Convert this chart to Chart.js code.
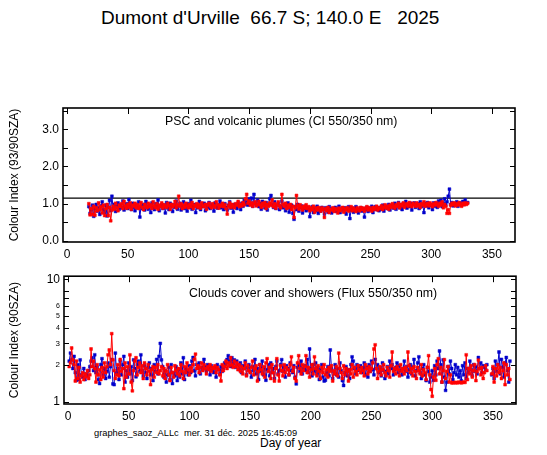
<!DOCTYPE html>
<html lang="fr">
<head>
<meta charset="UTF-8">
<title>Dumont d'Urville 2025</title>
<script src="https://cdn.jsdelivr.net/npm/chart.js"></script>
<style>
  body { margin: 0; background: #fff; font-family: "Liberation Sans", Arial, sans-serif; }
  .page { position: relative; width: 547px; height: 455px; overflow: hidden; }
  .page canvas { position: absolute; left: 0; }
  .txt { position: absolute; white-space: pre; color: #000; line-height: 1.2; }
</style>
</head>
<body>
<div class="page">
  <div class="txt" style="left:101px; top:7px; font-size:19px;">Dumont d'Urville  66.7 S; 140.0 E   2025</div>
  <canvas id="ciChart" width="547" height="170" style="top:95px"></canvas>
  <canvas id="fluxChart" width="547" height="160" style="top:265px"></canvas>
  <div class="txt" style="left:165px; top:114px; font-size:12.3px;">PSC and volcanic plumes (CI 550/350 nm)</div>
  <div class="txt" style="left:189px; top:286px; font-size:12.3px;">Clouds cover and showers (Flux 550/350 nm)</div>
  <div class="txt" style="left:94px; top:428px; font-size:9.3px;">graphes_saoz_ALLc  mer. 31 déc. 2025 16:45:09</div>
  <div class="txt" style="left:260px; top:436px; font-size:12px;">Day of year</div>
</div>
<script>
// ---- data (one value per day, starting at the given day) ----
const dayMin = -3.3;
const dayMax = 369;
const dayTicks = [0, 50, 100, 150, 200, 250, 300, 350];

// top panel : colour index 93/90 SZA
const ciStartDay = 18;
const ciBlue = [
  0.92, 0.74, 0.83, 0.96, 0.66, 0.87, 0.98, 0.80, 0.89, 0.71,
  0.94, 1.05, 0.84, 0.76, 0.96, 0.67, 0.90, 1.09, 0.81, 1.20,
  0.87, 0.98, 0.79, 0.93, 1.02, 0.85, 0.96, 0.89, 1.07, 0.83,
  0.92, 1.00, 0.87, 1.11, 0.94, 0.84, 1.01, 0.90, 0.81, 0.97,
  0.89, 1.05, 0.64, 0.93, 0.87, 0.98, 0.83, 1.06, 0.92, 0.85,
  0.96, 0.76, 1.02, 0.90, 0.84, 1.00, 0.93, 1.10, 0.81, 0.92,
  0.98, 0.87, 0.96, 0.75, 1.03, 0.89, 0.84, 1.01, 0.93, 0.79,
  0.97, 0.90, 1.07, 0.85, 0.94, 1.01, 0.83, 0.92, 1.05, 0.87,
  0.96, 0.80, 1.00, 0.90, 1.09, 0.85, 0.93, 0.98, 0.76, 0.94,
  0.89, 1.06, 0.84, 0.96, 0.92, 1.01, 0.81, 0.97, 0.90, 1.03,
  0.87, 0.94, 0.98, 0.80, 1.02, 0.92, 0.88, 0.97, 1.07, 0.89,
  0.93, 0.84, 1.00, 0.90, 0.83, 0.96, 1.05, 0.88, 0.94, 0.77,
  0.98, 0.92, 0.87, 1.02, 0.94, 0.84, 1.01, 0.93, 1.09, 0.98,
  1.05, 0.96, 1.13, 1.00, 1.15, 0.93, 1.25, 1.02, 0.97, 1.10,
  0.92, 1.01, 0.85, 1.06, 0.96, 0.89, 1.03, 0.83, 0.98, 1.13,
  1.22, 0.97, 0.90, 1.05, 0.87, 0.96, 1.01, 0.84, 0.93, 1.07,
  0.89, 0.98, 0.81, 0.93, 1.02, 0.77, 0.88, 0.96, 0.74, 0.58,
  0.92, 0.84, 0.98, 0.80, 0.89, 0.94, 0.75, 0.87, 0.93, 0.81,
  0.85, 0.90, 0.65, 0.84, 0.92, 0.76, 0.88, 0.81, 0.93, 0.74,
  0.87, 0.80, 0.90, 0.84, 0.72, 0.89, 0.83, 0.77, 0.92, 0.85,
  0.75, 0.87, 0.81, 0.90, 0.79, 0.85, 0.93, 0.76, 0.84, 0.88,
  0.80, 0.89, 0.72, 0.85, 0.92, 0.60, 0.83, 0.88, 0.77, 0.87,
  0.92, 0.81, 0.75, 0.85, 0.89, 0.80, 0.87, 0.64, 0.84, 0.90,
  0.79, 0.88, 0.83, 0.93, 0.76, 0.87, 0.92, 0.84, 0.89, 0.81,
  0.90, 0.85, 0.96, 0.80, 0.89, 0.93, 0.87, 0.98, 0.83, 0.92,
  0.97, 0.88, 1.01, 0.85, 0.94, 1.03, 0.89, 0.96, 0.84, 1.00,
  0.93, 1.06, 0.88, 0.97, 0.92, 1.01, 0.83, 0.98, 1.02, 0.90,
  0.96, 1.00, 0.87, 1.05, 0.93, 0.97, 0.76, 1.01, 0.94, 1.03,
  0.89, 0.98, 0.96, 0.84, 1.02, 0.93, 1.00, 0.90, 1.07, 0.97,
  1.09, 0.92, 1.01, 1.13, 0.96, 1.05, 1.20, 1.39, 0.98, 1.03,
  0.94, 1.01, 0.97, 1.05, 0.93, 1.00, 1.02, 0.96, 1.06, 0.98,
  1.10, 1.01, 1.03
];
const ciRed = [
  1.00, 0.70, 0.87, 0.71, 0.93, 0.69, 0.89, 0.81, 1.02, 0.84,
  0.92, 0.75, 0.96, 0.68, 0.87, 0.98, 0.68, 0.90, 0.54, 0.83,
  0.93, 0.85, 1.01, 0.89, 0.81, 0.96, 0.92, 1.00, 0.87, 1.06,
  0.94, 0.88, 0.98, 0.90, 1.02, 0.85, 0.96, 0.93, 1.01, 0.89,
  0.97, 0.87, 0.94, 1.03, 0.90, 0.84, 0.98, 0.93, 0.89, 1.01,
  0.92, 0.97, 0.87, 1.05, 0.94, 0.89, 1.00, 0.85, 0.96, 0.92,
  1.02, 0.88, 0.97, 0.93, 0.90, 1.01, 0.94, 0.85, 0.98, 0.92,
  0.96, 1.06, 0.89, 0.97, 1.20, 0.93, 1.00, 0.87, 0.96, 0.90,
  1.01, 0.94, 0.89, 0.98, 0.92, 1.03, 0.87, 0.96, 0.93, 1.00,
  0.90, 0.97, 0.88, 1.02, 0.94, 0.92, 0.98, 0.85, 0.96, 1.01,
  0.93, 0.89, 1.00, 0.94, 0.90, 1.05, 0.97, 0.88, 0.96, 0.93,
  1.01, 0.92, 0.97, 0.87, 0.72, 0.94, 1.02, 0.90, 0.98, 0.93,
  0.89, 1.00, 0.96, 1.06, 0.92, 0.98, 0.94, 1.03, 0.97, 1.13,
  1.25, 1.01, 1.07, 0.96, 1.02, 0.93, 1.00, 1.05, 0.94, 0.98,
  1.06, 0.97, 0.90, 1.01, 0.94, 1.03, 0.87, 0.98, 0.93, 1.02,
  0.96, 1.10, 0.92, 1.00, 0.88, 0.97, 1.05, 0.94, 0.89, 1.25,
  0.98, 0.93, 1.01, 0.87, 0.96, 0.90, 0.98, 0.84, 0.93, 0.63,
  0.89, 1.22, 0.94, 0.85, 0.97, 0.90, 0.83, 0.93, 0.88, 0.97,
  0.87, 0.92, 0.81, 0.89, 0.84, 0.93, 0.77, 0.88, 0.83, 0.90,
  0.85, 0.80, 0.89, 0.84, 0.63, 0.87, 0.81, 0.90, 0.76, 0.85,
  0.83, 0.89, 0.79, 0.87, 0.84, 0.75, 0.88, 0.81, 0.85, 0.90,
  0.77, 0.87, 0.83, 0.89, 0.80, 0.85, 0.92, 0.81, 0.88, 0.84,
  0.79, 0.89, 0.85, 0.81, 0.90, 0.84, 0.88, 0.80, 0.87, 0.92,
  0.83, 0.89, 0.85, 0.80, 0.90, 0.84, 0.88, 0.93, 0.83, 0.89,
  0.87, 0.94, 0.84, 0.90, 0.97, 0.88, 0.93, 0.85, 0.96, 0.90,
  1.00, 0.92, 0.88, 0.97, 0.93, 1.01, 0.89, 0.98, 0.94, 1.02,
  0.90, 0.97, 1.00, 0.93, 1.03, 0.96, 0.92, 1.01, 0.97, 0.93,
  1.02, 0.94, 0.98, 0.90, 1.00, 0.96, 1.05, 0.93, 0.98, 1.01,
  0.94, 1.02, 0.97, 0.92, 1.00, 0.96, 1.03, 0.98, 0.93, 1.01,
  0.96, 1.05, 0.89, 0.98, 0.93, 0.74, 0.84, 0.74, 0.96, 1.01,
  0.97, 1.02, 0.94, 1.00, 0.96, 1.03, 0.98, 0.93, 1.01, 0.97,
  1.02, 0.98, 1.01
];
const ciThreshold = 1.15;
const ciLabelTicks = [0, 1, 2, 3];
const ciMarkTicks = [0, 0.5, 1, 1.5, 2, 2.5, 3, 3.5];

// bottom panel : flux ratio 90 SZA (log scale)
const fluxStartDay = 1;
const fluxBlue = [
  2.15, 2.50, 2.20, 1.87, 2.35, 1.73, 1.50, 2.01, 1.52, 2.20,
  1.66, 1.59, 1.87, 1.52, 1.69, 1.63, 1.80, 1.94, 2.15, 2.29,
  1.80, 2.42, 1.73, 1.91, 1.52, 1.41, 2.01, 2.25, 1.66, 1.87,
  1.55, 1.77, 2.08, 1.59, 1.94, 2.22, 1.40, 1.38, 2.50, 1.73,
  1.87, 1.52, 2.15, 1.66, 2.01, 2.35, 1.45, 1.80, 1.59, 2.08,
  1.69, 1.94, 1.49, 2.20, 1.87, 1.60, 2.01, 2.15, 1.77, 2.42,
  1.80, 1.63, 1.97, 1.73, 1.55, 1.91, 2.08, 1.66, 1.87, 1.49,
  2.01, 1.77, 2.22, 1.69, 2.35, 3.00, 2.20, 1.94, 1.59, 1.80,
  1.45, 1.66, 1.91, 1.52, 2.01, 1.41, 1.73, 1.63, 1.94, 1.49,
  1.83, 1.59, 2.08, 1.69, 2.29, 1.52, 1.87, 1.77, 1.66, 1.97,
  1.73, 2.15, 2.30, 1.80, 1.63, 2.01, 1.87, 2.08, 1.69, 1.91,
  1.83, 2.22, 1.94, 1.77, 2.01, 1.87, 1.66, 1.97, 1.80, 1.73,
  1.91, 1.59, 2.01, 1.83, 1.69, 1.94, 1.77, 1.87, 2.08, 2.01,
  2.22, 2.38, 2.15, 1.94, 2.29, 2.05, 2.20, 1.91, 2.15, 2.01,
  1.83, 2.08, 1.73, 1.97, 1.87, 2.15, 1.66, 1.91, 2.01, 1.77,
  1.59, 1.94, 1.80, 2.22, 1.69, 1.87, 1.52, 2.01, 1.77, 2.15,
  1.66, 1.91, 1.50, 1.83, 2.01, 1.63, 2.08, 1.73, 1.87, 1.55,
  1.94, 2.15, 1.69, 1.80, 2.01, 2.21, 1.77, 1.91, 1.59, 1.97,
  1.87, 1.66, 2.08, 1.80, 1.73, 1.97, 1.59, 1.40, 1.91, 2.01,
  1.77, 2.15, 1.69, 1.87, 1.97, 1.80, 2.22, 1.73, 2.70, 1.87,
  1.63, 2.01, 1.77, 2.08, 1.69, 1.91, 1.52, 1.83, 2.01, 1.59,
  1.48, 1.50, 1.73, 1.94, 1.63, 2.65, 1.87, 1.55, 1.77, 2.01,
  1.66, 1.87, 1.59, 2.08, 1.80, 1.49, 1.36, 1.73, 1.94, 1.63,
  1.83, 1.55, 2.01, 2.33, 2.15, 1.87, 1.69, 2.01, 1.80, 1.91,
  1.97, 1.73, 1.87, 2.08, 1.66, 1.91, 1.59, 2.01, 1.77, 2.15,
  1.83, 1.66, 2.22, 1.87, 2.01, 1.73, 1.91, 1.63, 2.08, 1.80,
  1.55, 1.77, 1.94, 1.69, 2.15, 1.87, 2.01, 1.66, 1.83, 1.91,
  2.08, 1.73, 1.97, 1.80, 1.66, 1.87, 2.15, 1.77, 1.94, 1.59,
  1.83, 2.01, 1.69, 1.91, 2.22, 1.63, 1.80, 2.08, 2.33, 1.73,
  1.55, 1.87, 2.01, 1.66, 1.49, 1.91, 1.77, 1.45, 1.59, 1.80,
  1.50, 1.97, 1.66, 2.15, 1.87, 2.60, 2.01, 1.45, 2.20, 1.59,
  1.24, 1.45, 1.94, 1.69, 2.15, 1.87, 1.52, 1.73, 2.01, 1.66,
  1.91, 1.59, 1.80, 1.49, 1.97, 1.66, 2.08, 1.55, 1.87, 1.73,
  2.15, 1.83, 1.63, 2.01, 1.77, 1.94, 1.69, 2.30, 1.87, 2.08,
  1.73, 1.97, 1.91, 1.83, 2.01, null, null, null, 1.66, 1.87,
  1.55, 2.15, 1.77, 2.01, 2.55, 1.69, 2.22, 1.91, 1.59, 2.08,
  2.30, 1.80, 1.45, 2.15
];
const fluxRed = [
  1.94, 2.08, 2.75, 2.20, 2.01, 1.48, 2.15, 1.55, 1.91, 1.45,
  1.63, 1.73, 1.52, 1.69, 1.60, 1.80, 1.55, 1.66, 2.70, 1.94,
  2.15, 1.87, 1.45, 2.01, 1.66, 1.83, 1.52, 1.91, 1.59, 2.08,
  1.73, 1.94, 2.42, 2.65, 2.01, 3.60, 2.20, 1.80, 1.55, 1.66,
  2.01, 1.63, 2.22, 1.77, 1.87, 1.28, 2.08, 1.59, 1.94, 1.69,
  2.42, 1.45, 1.23, 1.80, 2.15, 2.29, 1.66, 1.91, 2.08, 1.73,
  1.97, 1.55, 2.08, 1.87, 1.66, 2.01, 1.77, 1.38, 1.83, 1.94,
  1.59, 1.91, 1.73, 2.01, 1.69, 1.80, 1.94, 1.63, 1.87, 1.55,
  1.77, 2.01, 1.66, 1.49, 1.91, 1.73, 1.59, 1.97, 1.80, 1.69,
  1.87, 1.63, 2.01, 1.77, 1.55, 1.94, 1.73, 2.08, 1.83, 1.66,
  1.91, 1.77, 2.01, 2.22, 2.45, 1.87, 1.97, 1.73, 1.91, 2.08,
  1.80, 2.01, 1.87, 1.69, 1.94, 1.83, 2.01, 1.77, 1.91, 1.87,
  1.97, 1.73, 1.91, 1.83, 1.66, 1.48, 2.01, 1.80, 1.94, 2.15,
  1.87, 2.08, 1.97, 2.29, 2.01, 1.91, 2.15, 1.94, 2.08, 1.83,
  2.01, 1.77, 1.94, 1.69, 1.87, 2.08, 1.63, 1.97, 1.80, 1.73,
  1.91, 2.15, 1.66, 1.87, 1.97, 1.48, 1.77, 2.01, 1.83, 1.69,
  1.94, 1.59, 2.08, 2.25, 1.77, 1.91, 1.55, 2.01, 1.73, 1.48,
  1.87, 2.25, 1.66, 1.48, 1.97, 1.80, 1.63, 2.01, 1.73, 1.91,
  1.83, 1.66, 2.01, 2.33, 1.77, 1.91, 1.55, 1.48, 2.08, 2.38,
  1.87, 1.69, 2.01, 1.80, 1.94, 2.38, 1.73, 1.91, 1.59, 1.83,
  2.01, 1.69, 2.33, 1.87, 1.63, 1.97, 1.77, 1.55, 1.91, 1.73,
  2.01, 1.66, 1.83, 1.59, 1.91, 1.77, 1.97, 1.48, 1.80, 1.69,
  1.94, 1.63, 2.50, 1.87, 1.73, 1.55, 1.97, 1.66, 1.87, 1.77,
  1.48, 1.83, 1.69, 2.01, 1.59, 1.91, 1.77, 1.66, 1.97, 1.83,
  1.73, 1.91, 1.80, 1.63, 2.01, 1.87, 1.69, 1.94, 1.77, 1.87,
  2.08, 2.70, 2.92, 1.87, 1.55, 1.77, 1.94, 1.66, 1.83, 2.01,
  1.73, 1.63, 1.91, 1.80, 1.59, 1.97, 2.55, 1.77, 1.87, 1.69,
  1.94, 1.83, 1.63, 2.01, 1.77, 1.87, 1.69, 1.91, 1.80, 2.55,
  1.97, 1.73, 1.87, 1.63, 1.94, 1.77, 1.55, 1.91, 1.80, 1.69,
  2.01, 1.63, 1.83, 1.73, 1.52, 1.91, 2.38, 1.66, 1.26, 1.11,
  1.59, 1.87, 1.50, 2.01, 2.25, 1.69, 1.91, 1.45, 1.80, 2.21,
  1.55, 1.77, 1.94, 1.45, 1.66, 1.43, 1.43, 1.44, 1.43, 1.44,
  1.43, 1.45, 1.44, 1.43, 1.44, 1.45, 1.44, 2.42, 1.52, 1.87,
  1.69, 1.97, 1.59, 1.80, 2.01, 1.49, 1.77, 2.19, 1.87, 1.66,
  1.91, 1.55, 1.73, 1.97, 1.80, null, null, null, 1.69, 1.94,
  1.45, 1.87, 1.63, 2.01, 1.73, 1.91, 1.55, 1.80, 2.08, 1.38,
  2.01, 1.66, 1.87, 1.52
];
const fluxLabelTicks = [1, 2, 3, 4, 5, 6, 10];
const fluxMarkTicks = [1, 2, 3, 4, 5, 6, 7, 8, 10];

const blue = '#0000cc';
const red = '#ff0000';

Chart.defaults.font.family = '"Liberation Sans", Arial, sans-serif';
Chart.defaults.color = '#000';

function toPoints(start, values) {
  return values.map((v, i) => ({ x: start + i, y: v }));
}

function series(values, start, color) {
  return {
    data: toPoints(start, values),
    borderColor: color,
    backgroundColor: color,
    borderWidth: 1,
    pointStyle: 'rect',
    pointRadius: 2,
    pointBorderWidth: 0.5,
    tension: 0,
    spanGaps: false
  };
}

// frame + inward tick marks, like the original plotting package
const frameTicks = {
  id: 'frameTicks',
  afterDatasetsDraw(chart, args, opts) {
    const { ctx, chartArea: a, scales } = chart;
    ctx.save();
    ctx.strokeStyle = '#000';
    ctx.lineWidth = 1;
    ctx.beginPath();
    opts.yMarks.forEach(v => {
      const y = Math.round(scales.y.getPixelForValue(v)) + 0.5;
      ctx.moveTo(a.left, y); ctx.lineTo(a.left + 5, y);
      ctx.moveTo(a.right, y); ctx.lineTo(a.right - 5, y);
    });
    opts.xMarks.forEach(v => {
      const x = Math.round(scales.x.getPixelForValue(v)) + 0.5;
      ctx.moveTo(x, a.top); ctx.lineTo(x, a.top + 6);
    });
    ctx.stroke();
    ctx.lineWidth = 1.6;
    ctx.strokeRect(a.left, a.top, a.right - a.left, a.bottom - a.top);
    ctx.restore();
  }
};

function xScale(axisHeight) {
  return {
    type: 'linear',
    min: dayMin,
    max: dayMax,
    grid: { display: false, drawTicks: false, tickLength: 0 },
    border: { display: false },
    ticks: { autoSkip: false, maxRotation: 0, padding: 5, font: { size: 12 } },
    afterBuildTicks: s => { s.ticks = dayTicks.map(v => ({ value: v })); },
    afterFit: s => { s.height = axisHeight; }
  };
}

new Chart(document.getElementById('ciChart'), {
  type: 'line',
  data: {
    datasets: [
      series(ciRed, ciStartDay, red),
      series(ciBlue, ciStartDay, blue),
      {
        data: [{ x: dayMin, y: ciThreshold }, { x: dayMax, y: ciThreshold }],
        borderColor: '#000', borderWidth: 1.2, pointRadius: 0
      }
    ]
  },
  options: {
    responsive: false,
    animation: false,
    layout: { padding: { top: 13, right: 32, left: 0, bottom: 0 } },
    plugins: {
      legend: { display: false },
      tooltip: { enabled: false },
      frameTicks: { yMarks: ciMarkTicks, xMarks: dayTicks }
    },
    scales: {
      x: xScale(23),
      y: {
        min: -0.03,
        max: 3.57,
        grid: { display: false, drawTicks: false, tickLength: 0 },
        border: { display: false },
        afterBuildTicks: s => { s.ticks = ciLabelTicks.map(v => ({ value: v })); },
        afterFit: s => { s.width = 63; },
        ticks: { padding: 4, font: { size: 12 }, callback: v => v.toFixed(1) },
        title: { display: true, text: 'Colour Index (93/90SZA)', font: { size: 12 }, padding: { top: 7, bottom: 0 } }
      }
    }
  },
  plugins: [frameTicks]
});

new Chart(document.getElementById('fluxChart'), {
  type: 'line',
  data: {
    datasets: [
      series(fluxRed, fluxStartDay, red),
      series(fluxBlue, fluxStartDay, blue)
    ]
  },
  options: {
    responsive: false,
    animation: false,
    layout: { padding: { top: 11, right: 31, left: 0, bottom: 0 } },
    plugins: {
      legend: { display: false },
      tooltip: { enabled: false },
      frameTicks: { yMarks: fluxMarkTicks, xMarks: dayTicks }
    },
    scales: {
      x: xScale(21),
      y: {
        type: 'logarithmic',
        min: 0.96,
        max: 10.6,
        grid: { display: false, drawTicks: false, tickLength: 0 },
        border: { display: false },
        afterBuildTicks: s => { s.ticks = fluxLabelTicks.map(v => ({ value: v })); },
        afterFit: s => { s.width = 64; },
        ticks: {
          padding: 4,
          callback: v => String(v),
          font: c => {
            const v = c.tick ? c.tick.value : 1;
            if (v === 1 || v === 10) return { size: 12 };
            if (v === 2 || v === 3) return { size: 8 };
            return { size: 7 };
          }
        },
        title: { display: true, text: 'Colour Index (90SZA)', font: { size: 12 }, padding: { top: 7, bottom: 0 } }
      }
    }
  },
  plugins: [frameTicks]
});
</script>
</body>
</html>
